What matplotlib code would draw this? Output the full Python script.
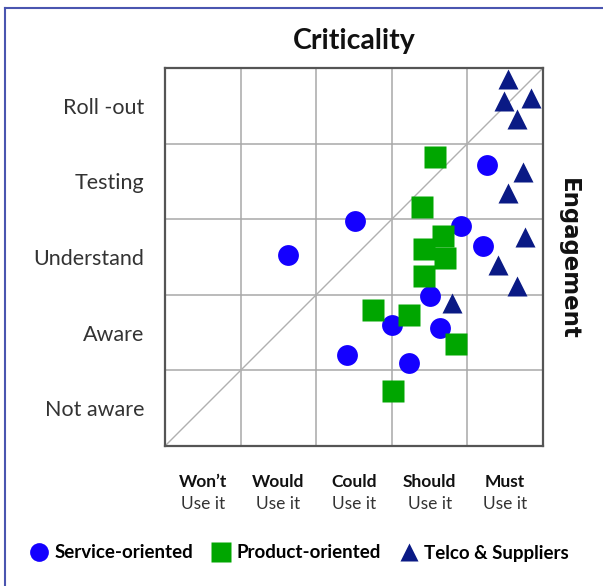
import matplotlib
matplotlib.use("Agg")
import matplotlib.pyplot as plt
from matplotlib.lines import Line2D

plt.rcParams['font.family'] = ['Lato', 'DejaVu Sans']

# category labels
use_levels = ["Won\u2019t", "Would", "Could", "Should", "Must"]
engage_levels = ["Not aware", "Aware", "Understand", "Testing", "Roll -out"]

# series (x = criticality, y = engagement, 0..5 grid units)
service_x = [4.26, 2.51, 3.91, 1.63, 4.21, 3.50, 3.00, 3.64, 2.41, 3.23]
service_y = [3.72, 2.98, 2.91, 2.52, 2.65, 1.98, 1.60, 1.56, 1.20, 1.10]

product_x = [3.57, 3.40, 3.68, 3.42, 3.71, 3.43, 2.75, 3.23, 3.85, 3.01]
product_y = [3.82, 3.16, 2.78, 2.61, 2.49, 2.25, 1.80, 1.73, 1.35, 0.73]

telco_x = [4.54, 4.48, 4.84, 4.66, 4.74, 4.54, 4.76, 4.40, 4.66, 3.80]
telco_y = [4.85, 4.57, 4.60, 4.33, 3.63, 3.35, 2.77, 2.40, 2.11, 1.89]

fig = plt.figure(figsize=(6.03, 5.86), dpi=100)
ax = fig.add_axes([165/603, 140/586, 378/603, 378/586])
ax.set_xlim(0, 5)
ax.set_ylim(0, 5)

# grid + diagonal
for k in range(1, 5):
    ax.axvline(k, color='#a8a8a8', lw=1.1, zorder=1)
    ax.axhline(k, color='#a8a8a8', lw=1.1, zorder=1)
ax.plot([0, 1], [0, 1], transform=ax.transAxes, color='#b0b0b0', lw=1.0, zorder=1)

for s in ax.spines.values():
    s.set_color('#555555')
    s.set_linewidth(1.6)

ax.plot(service_x, service_y, 'o', ms=15, color='#1400ff', mec='none', zorder=3,
        label='Service-oriented')
ax.plot(product_x, product_y, 's', ms=15.5, color='#00a600', mec='none', zorder=3,
        label='Product-oriented')
ax.plot(telco_x, telco_y, '^', ms=15, color='#0a1a85', mec='none', zorder=3,
        label='Telco & Suppliers')

ax.set_xticks([])
ax.set_yticks([i + 0.5 for i in range(5)])
ax.set_yticklabels(engage_levels, fontsize=15.5, color='#333333')
ax.tick_params(axis='y', length=0, pad=15)

for i, lab in enumerate(use_levels):
    ax.text(i + 0.5, -0.48, lab, ha='center', va='center', fontsize=12.5,
            fontweight='bold', color='#111111')
    ax.text(i + 0.5, -0.77, "Use it", ha='center', va='center', fontsize=12.5,
            color='#333333')

fig.text(354/603, 1 - 41/586, "Criticality", ha='center', va='center',
         fontsize=20.5, fontweight='bold', color='#111111')
fig.text(568/603, 1 - 259/586, "Engagement", ha='center', va='center',
         rotation=-90, fontsize=16.5, fontweight='bold', family='DejaVu Sans',
         color='#111111')

leg = fig.legend(loc='center', bbox_to_anchor=(299/603, 1 - 553/586), ncol=3,
                 frameon=False, handletextpad=0.3, columnspacing=1.0,
                 handlelength=1.0, markerscale=0.9,
                 prop={'weight': 'bold', 'size': 13.5})

# figure border (top and left)
fig.add_artist(Line2D([5/603, 1], [1 - 7.5/586, 1 - 7.5/586], color='#4a55b0', lw=1.5))
fig.add_artist(Line2D([5/603, 5/603], [0, 1 - 7.5/586], color='#4a55b0', lw=1.5))

fig.savefig("out.png", dpi=100)
